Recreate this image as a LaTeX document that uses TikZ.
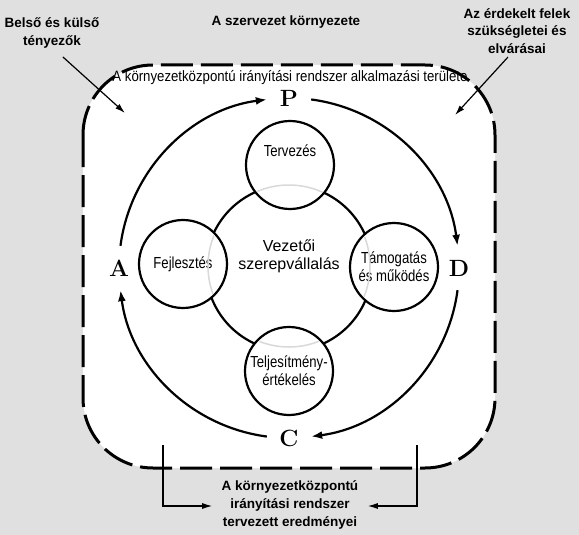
\documentclass[tikz,border=0pt]{standalone}
\usepackage{fontspec}
\newfontfamily\sansfont{Liberation Sans}
\newfontfamily\narrowfont[FakeStretch=0.82]{Liberation Sans}
\newfontfamily\headfont[FakeStretch=0.88]{Liberation Sans}
\usetikzlibrary{arrows.meta}
\definecolor{bggray}{RGB}{224,224,224}
\tikzset{
  stage/.style={circle, draw, line width=2.2pt, fill=white, minimum size=88pt, inner sep=0pt,
    align=center, font=\narrowfont\fontsize{16}{18}\selectfont},
  cyc/.style={line width=2.2pt, -{Latex[length=11pt,width=8pt]}},
  pointer/.style={line width=1.2pt, -{Latex[length=10pt,width=6pt]}},
  boldtext/.style={align=center, font=\sansfont\bfseries\fontsize{13.5}{17.5}\selectfont},
  letter/.style={font=\bfseries\fontsize{23.5}{24}\selectfont}
}
\begin{document}
\begin{tikzpicture}[x=1pt,y=1pt]
\fill[bggray] (0,0) rectangle (579,-535);
\useasboundingbox (0,0) rectangle (579,-535);
\draw[fill=white, line width=3pt, rounded corners=70pt, dash pattern=on 32pt off 8pt]
  (83,-65) rectangle (495,-468);
\coordinate (O) at (289,-268);
\path (O) ++(90:170) node[letter] (P) {P};
\path (O) ++(0:170) node[letter] (D) {D};
\path (O) ++(270:170) node[letter] (C) {C};
\path (O) ++(180:170) node[letter] (A) {A};
\draw[cyc] (O) ++(82.5:170) arc[start angle=82.5, end angle=7.5, radius=170];
\draw[cyc] (O) ++(-7.5:170) arc[start angle=-7.5, end angle=-82.5, radius=170];
\draw[cyc] (O) ++(-97.5:170) arc[start angle=-97.5, end angle=-172.5, radius=170];
\draw[cyc] (O) ++(172.5:170) arc[start angle=172.5, end angle=97.5, radius=170];
\draw[line width=2.2pt] (O) circle[radius=83];
\path (289,-256) node[align=center, font=\sansfont\fontsize{16}{18}\selectfont] (vez) {Vezetői\\szerepvállalás};
\path (290,-165) node[stage] (terv) {Tervezés\\[10pt]};
\path (394,-267) node[stage] (tam) {Támogatás\\és működés};
\path (289,-371) node[stage] (telj) {Teljesítmény-\\értékelés};
\path (183,-264) node[stage] (fejl) {Fejlesztés};
\begin{scope}
\clip (terv.center) circle[radius=42] (tam.center) circle[radius=42]
  (telj.center) circle[radius=42] (fejl.center) circle[radius=42];
\draw[gray!30, line width=1.5pt] (289,-266) circle[radius=81];
\end{scope}
\path (290,-78) node[font=\headfont\fontsize{15}{18}\selectfont] (terulet)
  {A környezetközpontú irányítási rendszer alkalmazási területe};
\path (286,-22) node[boldtext] (env) {A szervezet környezete};
\path (52,-33) node[boldtext] (belso) {Belső és külső\\tényezők};
\path (517,-31) node[boldtext] (felek) {Az érdekelt felek\\szükségletei és\\elvárásai};
\coordinate (belsoend) at (125,-113);
\coordinate (felekend) at (455,-115);
\draw[pointer, shorten <=8pt] ([xshift=5pt]belso.south) -- (belsoend);
\draw[pointer] ([xshift=-9pt]felek.south) -- (felekend);
\path (290,-505) node[boldtext, font=\sansfont\bfseries\fontsize{13.5}{18}\selectfont] (eredm)
  {A környezetközpontú\\irányítási rendszer\\tervezett eredményei};
\coordinate (ltop) at (163,-445);
\coordinate (rtop) at (417,-445);
\draw[pointer] (ltop) |- ([xshift=-6pt,yshift=-1pt]eredm.west);
\draw[pointer] (rtop) |- ([xshift=6pt,yshift=-1pt]eredm.east);
\end{tikzpicture}
\end{document}
